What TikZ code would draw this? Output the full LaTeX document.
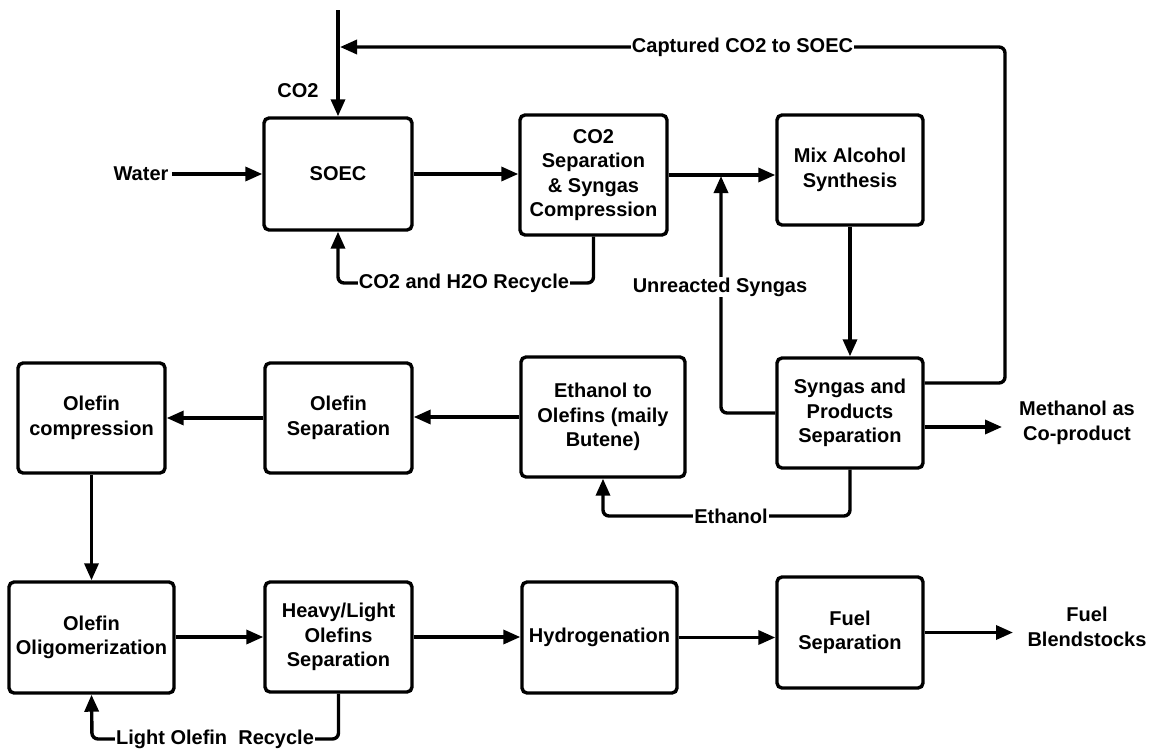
\documentclass[tikz,border=0pt]{standalone}
\usepackage{fontspec}
\setmainfont{Liberation Sans}
\usetikzlibrary{arrows.meta,calc}
\begin{document}
\begin{tikzpicture}[x=1pt,y=-1pt,
  every node/.style={font=\bfseries\fontsize{20}{24.5}\selectfont, align=center},
  unit/.style={draw, line width=3.4pt, rounded corners=5pt, inner sep=0pt},
  flow/.style={line width=3.4pt, rounded corners=6pt, -{Triangle[length=17pt,width=14pt]}},
  tag/.style={fill=white, inner sep=1pt}]
\useasboundingbox (0,0) rectangle (1149,750);

% process units
\node[unit, minimum width=148pt, minimum height=112pt] (soec)   at (338,174)   {SOEC};
\node[unit, minimum width=147pt, minimum height=120pt] (co2sep) at (593.5,175) {CO2\\Separation\\\& Syngas\\Compression};
\node[unit, minimum width=146pt, minimum height=110pt] (mix)    at (850,170)   {Mix Alcohol\\Synthesis};
\node[unit, minimum width=146pt, minimum height=110pt] (syn)    at (850,413)   {Syngas and\\Products\\Separation};
\node[unit, minimum width=147pt, minimum height=110pt] (ocomp)  at (91.5,418)  {Olefin\\compression};
\node[unit, minimum width=147pt, minimum height=110pt] (osep)   at (338.5,418) {Olefin\\Separation};
\node[unit, minimum width=164pt, minimum height=120pt] (eto)    at (603,417)   {Ethanol to\\Olefins (maily\\Butene)};
\node[unit, minimum width=165pt, minimum height=111pt] (olig)   at (91.5,637.5){Olefin\\Oligomerization};
\node[unit, minimum width=147pt, minimum height=110pt] (hl)     at (338.5,637) {Heavy/Light\\Olefins\\Separation};
\node[unit, minimum width=155pt, minimum height=111pt] (hyd)    at (599.5,637.5){Hydrogenation};
\node[unit, minimum width=146pt, minimum height=111pt] (fuel)   at (850,632.5) {Fuel\\Separation};

% feeds and products
\node (water) at (141,174) {Water};
\node (co2)   at (298,91)  {CO2};
\node (meth)  at (1077,423) {Methanol as\\Co-product};
\node (blend) at (1087,627) {Fuel\\Blendstocks};
\coordinate (co2top) at (338,10);

% main flows
\draw[flow] (water.east) -- (soec.west);
\draw[flow] (co2top) -- (soec.north);
\draw[flow] (soec.east) -- (soec.east -| co2sep.west);
\draw[flow] (co2sep.east) -- (co2sep.east -| mix.west);
\draw[flow] (mix.south) -- (syn.north);
\draw[flow] (syn.east |- 0,427) -- (1002,427);
\draw[flow] (eto.west) -- (eto.west -| osep.east);
\draw[flow] (osep.west) -- (osep.west -| ocomp.east);
\draw[flow] (ocomp.south) -- (olig.north);
\draw[flow] (olig.east |- 0,637) -- (hl.west);
\draw[flow] (hl.east) -- (hl.east -| hyd.west);
\draw[flow] (hyd.east) -- (hyd.east -| fuel.west);
\draw[flow] (fuel.east) -- (1013,632.5);

% recycle loops
\draw[flow] (syn.east |- 0,383) -- (1005,383) -- (1005,47) -- (340,47);
\node[tag] (capt) at (742.5,47) {Captured CO2 to SOEC};

\draw[flow] (co2sep.south) -- (593.5,283) -- (338,283) -- (soec.south);
\node[tag] (rec1) at (464,283) {CO2 and H2O Recycle};

\draw[flow] (syn.west) -- (721,413) -- (721,176);
\node[tag] (unr) at (720,287) {Unreacted Syngas};

\draw[flow] (syn.south) -- (850,516) -- (603,516) -- (eto.south);
\node[tag] (eth) at (731,516) {Ethanol};

\draw[flow] (hl.south) -- (338.5,739) -- (92,739) -- (olig.south);
\node[tag] (rec2) at (215,739) {Light Olefin\ \ Recycle};
\end{tikzpicture}
\end{document}
